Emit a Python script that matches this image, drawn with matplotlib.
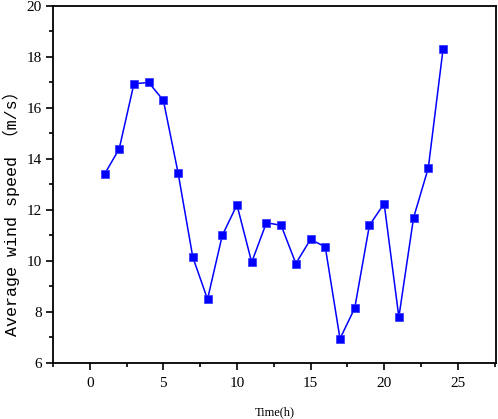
import matplotlib
matplotlib.use('Agg')
import matplotlib.pyplot as plt
from matplotlib.ticker import MultipleLocator

hours = [1, 2, 3, 4, 5, 6, 7, 8, 9, 10, 11, 12,
         13, 14, 15, 16, 17, 18, 19, 20, 21, 22, 23, 24]
wind_speed = [13.4, 14.4, 16.95, 17.0, 16.3, 13.45, 10.15, 8.5, 11.0, 12.2, 9.95, 11.5,
              11.4, 9.9, 10.85, 10.55, 6.95, 8.15, 11.4, 12.25, 7.8, 11.7, 13.65, 18.3]

plt.rcParams['font.family'] = ['Liberation Serif', 'Noto Sans CJK SC', 'DejaVu Sans']

fig = plt.figure(figsize=(4.98, 4.19), dpi=100)
ax = fig.add_axes([0.1064, 0.1337, 0.8896, 0.852])

ax.plot(hours, wind_speed, color='#0000ff', linewidth=1.1,
        marker='s', markersize=6, markerfacecolor='#0000ff',
        markeredgecolor='#3030ff', markeredgewidth=0.5)

ax.set_xlim(-2.5, 27.6)
ax.set_ylim(6, 20)
ax.xaxis.set_major_locator(MultipleLocator(5))
ax.xaxis.set_minor_locator(MultipleLocator(2.5))
ax.yaxis.set_major_locator(MultipleLocator(2))
ax.yaxis.set_minor_locator(MultipleLocator(1))

for s in ax.spines.values():
    s.set_linewidth(1.3)
ax.tick_params(which='both', direction='out', width=1.2, top=False, right=False)
ax.tick_params(which='major', length=5, labelsize=11, pad=5)
ax.tick_params(which='minor', length=3)
ax.tick_params(axis='y', which='major', pad=3)

ax.set_xlabel('Time(h)', fontsize=9, labelpad=12)
ax.set_ylabel('Average wind speed （m/s）', fontsize=12,
              family=['Liberation Mono', 'Noto Sans CJK SC', 'DejaVu Sans'])
ax.yaxis.set_label_coords(-0.0745, 0.43)

fig.savefig('out.png', dpi=100)
